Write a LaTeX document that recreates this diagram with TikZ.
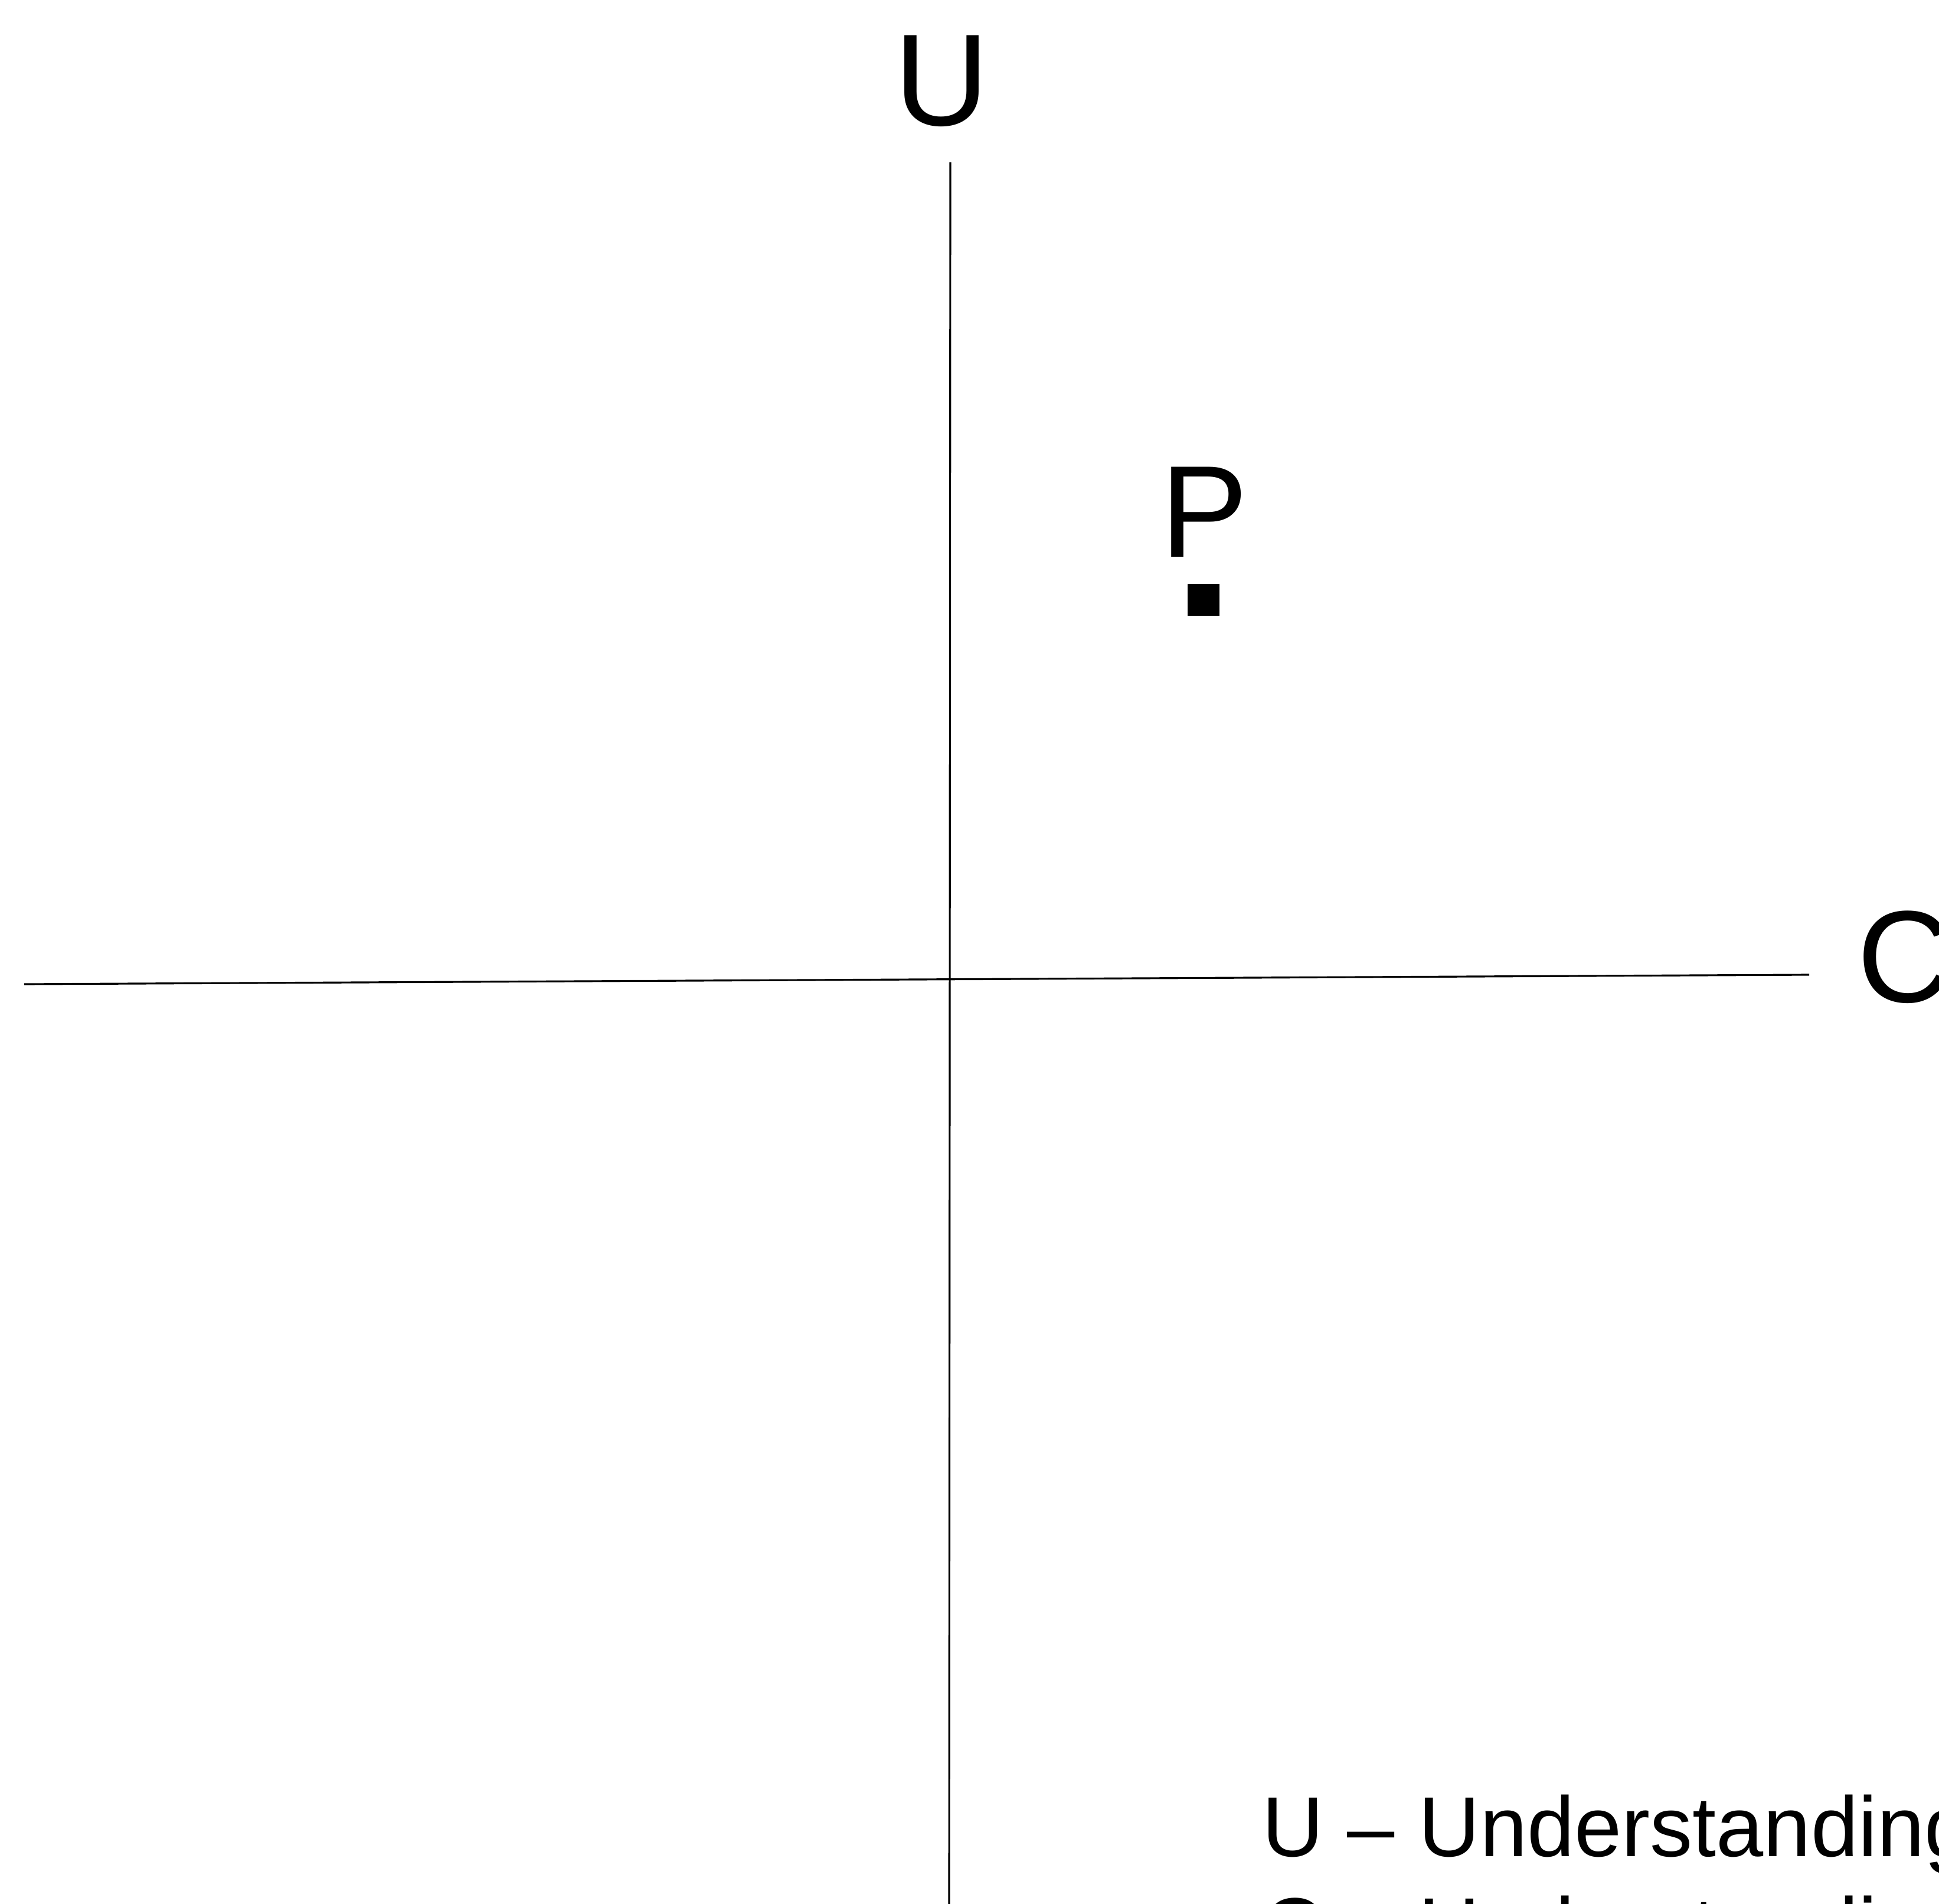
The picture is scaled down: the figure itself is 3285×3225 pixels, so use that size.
\documentclass[tikz,border=0pt]{standalone}
\usepackage{fontspec}
\setmainfont{Liberation Sans}
\tikzset{
  axisline/.style={line width=0.9pt, black},
  biglabel/.style={inner sep=0pt, font=\fontsize{63}{75}\selectfont},
  legendtext/.style={inner sep=0pt, anchor=base west, font=\fontsize{41}{49}\selectfont},
  marker/.style={fill=black, draw=none}
}
\begin{document}
\begin{tikzpicture}[x=0.01cm, y=-0.01cm]
\useasboundingbox (0,0) rectangle (3285,3225);
% axes
\coordinate (hl) at (41,1667);
\coordinate (hr) at (3065,1651);
\coordinate (vt) at (1610,275);
\coordinate (vb) at (1608,3225);
\draw[axisline] (hl) -- (hr);
\draw[axisline] (vt) -- (vb);
% labels
\node[biglabel, anchor=base] (U) at (1595,213) {U};
\node[biglabel, anchor=base west] (C) at (3146,1697) {C};
\node[biglabel, anchor=base west] (P) at (1966,944) {P};
% point marker
\fill[marker] (2012,989) rectangle (2066,1043);
\coordinate (pt) at (2039,1016);
% legend
\node[legendtext] (l1) at (2138,3144) {U – Understanding};
\node[legendtext] (l2) at (2138,3315) {C – Understanding};
\end{tikzpicture}
\end{document}
